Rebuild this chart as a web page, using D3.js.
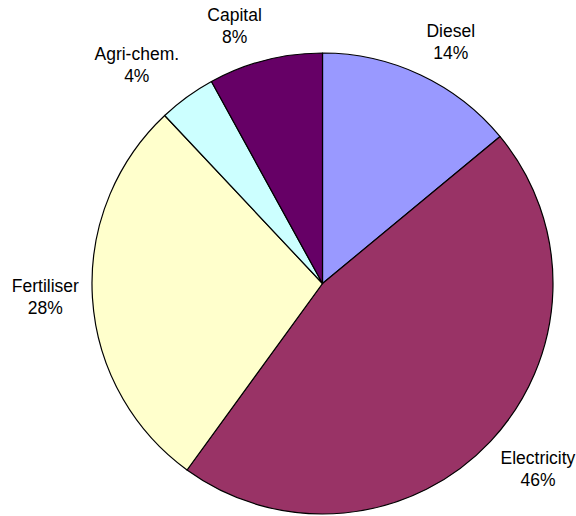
<!DOCTYPE html>
<html>
<head>
<meta charset="utf-8">
<script src="https://cdn.jsdelivr.net/npm/d3@7"></script>
<style>
  html, body { margin: 0; padding: 0; background: #fff; }
  svg { display: block; }
  text { font-family: "Liberation Sans", Arial, sans-serif; font-size: 17.5px; fill: #000; }
</style>
</head>
<body>
<svg id="chart" width="576" height="516"></svg>
<script>
// Energy input shares (%), clockwise from 12 o'clock
const categories = ["Diesel", "Electricity", "Fertiliser", "Agri-chem.", "Capital"];
const shares = [14, 46, 28, 4, 8];
const colors = ["#9999FF", "#993366", "#FFFFCC", "#CCFFFF", "#660066"];

const svg = d3.select("#chart");
const cx = 322.5, cy = 283.5, radius = 230.5;

const data = categories.map((c, i) => ({ name: c, value: shares[i], color: colors[i] }));

const pie = d3.pie().value(d => d.value).sort(null);
const arc = d3.arc().innerRadius(0).outerRadius(radius);
const arcs = pie(data);

const g = svg.append("g").attr("transform", `translate(${cx},${cy})`);

g.selectAll("path.slice")
  .data(arcs)
  .join("path")
  .attr("class", "slice")
  .attr("d", arc)
  .attr("fill", d => d.data.color)
  .attr("stroke", "#000")
  .attr("stroke-width", 1.2)
  .attr("stroke-linejoin", "round");

// Labels: the box corner nearest the pie sits on an anchor just outside the rim,
// along the slice's mid-angle; near-horizontal/vertical directions centre the box on that axis.
const anchorR = radius + 13.5, lineGap = 22, ascent = 13, descent = 4;
const boxH = ascent + lineGap + descent;
const side = v => Math.sign(v) * Math.max(0, Math.min(1, (Math.abs(v) - 0.1) * 8));

const labels = g.selectAll("text.lbl")
  .data(arcs)
  .join("text")
  .attr("class", "lbl")
  .attr("text-anchor", "middle");

labels.append("tspan").attr("x", 0).attr("dy", 0).text(d => d.data.name);
labels.append("tspan").attr("x", 0).attr("dy", lineGap).text(d => d.data.value + "%");

labels.each(function(d) {
  const w = this.getBBox().width;
  const a = (d.startAngle + d.endAngle) / 2;
  const dx = Math.sin(a), dy = -Math.cos(a);
  const bx = dx * anchorR + side(dx) * w / 2;
  const by = dy * anchorR + side(dy) * boxH / 2;
  const baseline = by - boxH / 2 + ascent;
  d3.select(this).attr("transform", `translate(${bx},${baseline})`);
});
</script>
</body>
</html>
